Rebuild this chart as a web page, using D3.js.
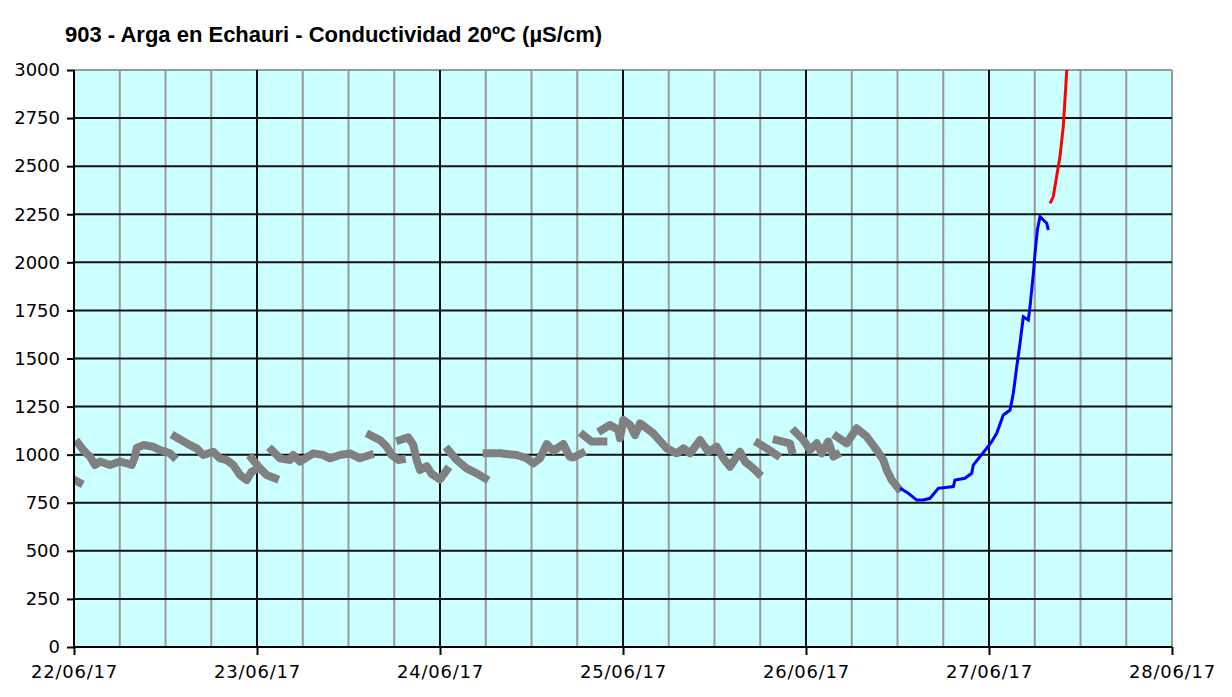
<!DOCTYPE html>
<html><head><meta charset="utf-8">
<script src="https://cdn.jsdelivr.net/npm/d3@7"></script>
<style>body{margin:0;background:#fff;} svg{display:block;}</style>
</head><body><svg id="c" width="1232" height="697"></svg>
<script>
const chartTitle = "903 - Arga en Echauri - Conductividad 20ºC (µS/cm)";
const yTickValues = [0,250,500,750,1000,1250,1500,1750,2000,2250,2500,2750,3000];
const startDay = "2017-06-22", endDay = "2017-06-28";

// [hours since 22/06/17 00:00, µS/cm]
const graySegments = [
  [[0.0,870],[0.7,855]],
  [[0.56,1059],[1.22,1024],[2.1,990],[2.75,946],[3.41,964],[4.72,946],[6.03,964],[6.91,955],[7.57,946],[8.0,990],[8.22,1035],[9.09,1050],[10.4,1041],[11.28,1024],[12.59,1007],[13.02,990]],
  [[13.25,1094],[14.78,1059],[16.09,1033],[16.96,998],[18.27,1015],[19.15,981],[20.03,972],[20.89,946],[21.77,894],[22.65,868],[23.3,912],[23.74,920]],
  [[23.3,981],[24.39,929],[25.27,894],[26.36,877]],
  [[25.93,1024],[27.02,981],[28.33,972],[28.76,998],[29.64,964],[31.38,1007],[32.7,998],[33.57,981],[34.89,998],[36.2,1007],[37.51,981],[38.82,998]],
  [[38.82,1102],[40.13,1076],[41.01,1041],[41.67,998],[42.53,972],[42.98,975]],
  [[42.76,1076],[43.84,1090],[44.5,1050],[44.94,972],[45.38,920],[46.26,940],[46.91,900],[48.0,872],[48.88,920]],
  [[49.09,1024],[50.2,972],[51.5,929],[52.81,903],[53.9,877]],
  [[54.12,1007],[55.87,1007],[58.06,998],[59.37,981],[60.24,955],[61.12,981],[62.0,1055],[62.86,1020],[64.17,1055],[65.0,990],[65.48,985],[66.58,1007]],
  [[66.8,1102],[67.9,1068],[69.42,1068]],
  [[69.2,1128],[70.3,1154],[71.39,1128],[71.6,1085],[72.04,1180],[72.92,1154],[73.57,1102],[74.23,1163],[75.97,1111],[77.73,1033],[79.04,1007],[79.91,1033],[80.79,1007],[82.1,1076],[83.19,1015],[84.29,1041],[85.16,981],[86.03,937],[87.34,1015],[88.0,964],[89.09,929],[89.75,903]],
  [[89.75,1059],[90.85,1033],[92.16,998]],
  [[92.16,1076],[93.9,1059],[94.12,1024]],
  [[94.56,1120],[95.65,1076],[96.53,1024],[97.41,1059],[98.06,1007],[98.93,1068],[99.59,990],[100.03,1000]],
  [[100.03,1094],[101.34,1059],[102.65,1137],[103.96,1094],[105.27,1024],[106.14,972],[106.58,920],[107.24,868],[108.11,825]]
];
const blueSeries = [[108.33,825],[109.42,799],[110.52,764],[111.39,764],[112.27,773],[113.35,825],[115.32,834],[115.54,868],[116.85,877],[117.73,903],[117.94,946],[118.82,990],[119.7,1033],[120.35,1068],[121.01,1111],[121.88,1206],[122.76,1232],[123.19,1319],[123.64,1458],[124.07,1579],[124.5,1717],[125.16,1700],[125.38,1770],[125.82,1943],[126.04,2047],[126.34,2168],[126.69,2238],[127.13,2220],[127.57,2203],[127.78,2168]];
const redSeries = [[128.0,2307],[128.43,2342],[128.87,2446],[129.31,2550],[129.74,2706],[129.96,2844],[130.19,2992],[130.3,3060]];

const svg = d3.select("#c");
const m = {l:74, t:70, r:1172, b:647};
const t0 = new Date(startDay+"T00:00:00Z"), t1 = new Date(endDay+"T00:00:00Z");
const x = d3.scaleUtc().domain([t0,t1]).range([m.l,m.r]);
const y = d3.scaleLinear().domain([0,3000]).range([m.b,m.t]);
const toDate = h => new Date(t0.getTime()+h*3600000);

svg.append("rect").attr("x",m.l).attr("y",m.t).attr("width",m.r-m.l).attr("height",m.b-m.t).attr("fill","#ccffff");

// minor vertical grid (6h)
const minor = d3.utcHour.every(6).range(t0,t1).filter(d=>d.getUTCHours()!==0);
svg.append("g").selectAll("line").data(minor).join("line")
  .attr("x1",d=>x(d)).attr("x2",d=>x(d)).attr("y1",m.t).attr("y2",m.b)
  .attr("stroke","#999").attr("stroke-width",2);
svg.append("line").attr("x1",m.r).attr("x2",m.r).attr("y1",m.t).attr("y2",m.b).attr("stroke","#999").attr("stroke-width",2);
svg.append("line").attr("x1",m.l).attr("x2",m.r).attr("y1",m.t).attr("y2",m.t).attr("stroke","#999").attr("stroke-width",2);
// horizontal grid
svg.append("g").selectAll("line").data(yTickValues.filter(v=>v>0&&v<3000)).join("line")
  .attr("x1",m.l).attr("x2",m.r).attr("y1",d=>y(d)).attr("y2",d=>y(d))
  .attr("stroke","#111").attr("stroke-width",2);
// major vertical grid
const days = d3.utcDay.range(t0, new Date(t1.getTime()+1));
svg.append("g").selectAll("line").data(days.slice(1,-1)).join("line")
  .attr("x1",d=>x(d)).attr("x2",d=>x(d)).attr("y1",m.t).attr("y2",m.b)
  .attr("stroke","#111").attr("stroke-width",2);

svg.append("clipPath").attr("id","pc").append("rect")
  .attr("x",m.l).attr("y",m.t).attr("width",m.r-m.l).attr("height",m.b-m.t);

const line = d3.line().x(d=>x(toDate(d[0]))).y(d=>y(d[1]));
const g = svg.append("g").attr("clip-path","url(#pc)");
g.selectAll("path.gray").data(graySegments).join("path").attr("class","gray")
  .attr("d",line).attr("fill","none").attr("stroke","#808080").attr("stroke-width",8)
  .attr("stroke-linejoin","round").attr("stroke-linecap","square");
g.append("path").datum(blueSeries).attr("d",line).attr("fill","none").attr("stroke","#0000ff").attr("stroke-width",3);
g.append("path").datum(redSeries).attr("d",line).attr("fill","none").attr("stroke","#ff0000").attr("stroke-width",3);

// axes
const font = "'DejaVu Sans', Verdana, sans-serif";
const ya = svg.append("g").attr("transform",`translate(${m.l},0)`)
  .call(d3.axisLeft(y).tickValues(yTickValues).tickSize(7).tickPadding(7).tickFormat(d3.format("d")));
ya.select(".domain").attr("stroke","#000").attr("stroke-width",2).attr("d",`M0,${m.t}V${m.b}`);
ya.selectAll(".tick line").attr("stroke","#000").attr("stroke-width",2);
ya.selectAll("text").attr("font-family",font).attr("font-size",18).attr("fill","#000");

const xa = svg.append("g").attr("transform",`translate(0,${m.b})`)
  .call(d3.axisBottom(x).tickValues(days).tickSize(8).tickPadding(10).tickFormat(d3.utcFormat("%d/%m/%y")));
xa.select(".domain").attr("stroke","#000").attr("stroke-width",2).attr("d",`M${m.l},0H${m.r}`);
xa.selectAll(".tick line").attr("stroke","#000").attr("stroke-width",2);
xa.selectAll("text").attr("font-family",font).attr("font-size",18).attr("letter-spacing","0.8px").attr("fill","#000");

svg.append("text").attr("x",65).attr("y",42).text(chartTitle)
  .attr("font-family","'Liberation Sans', Arial, sans-serif").attr("font-weight","bold").attr("font-size",22).attr("fill","#000");
</script></body></html>
